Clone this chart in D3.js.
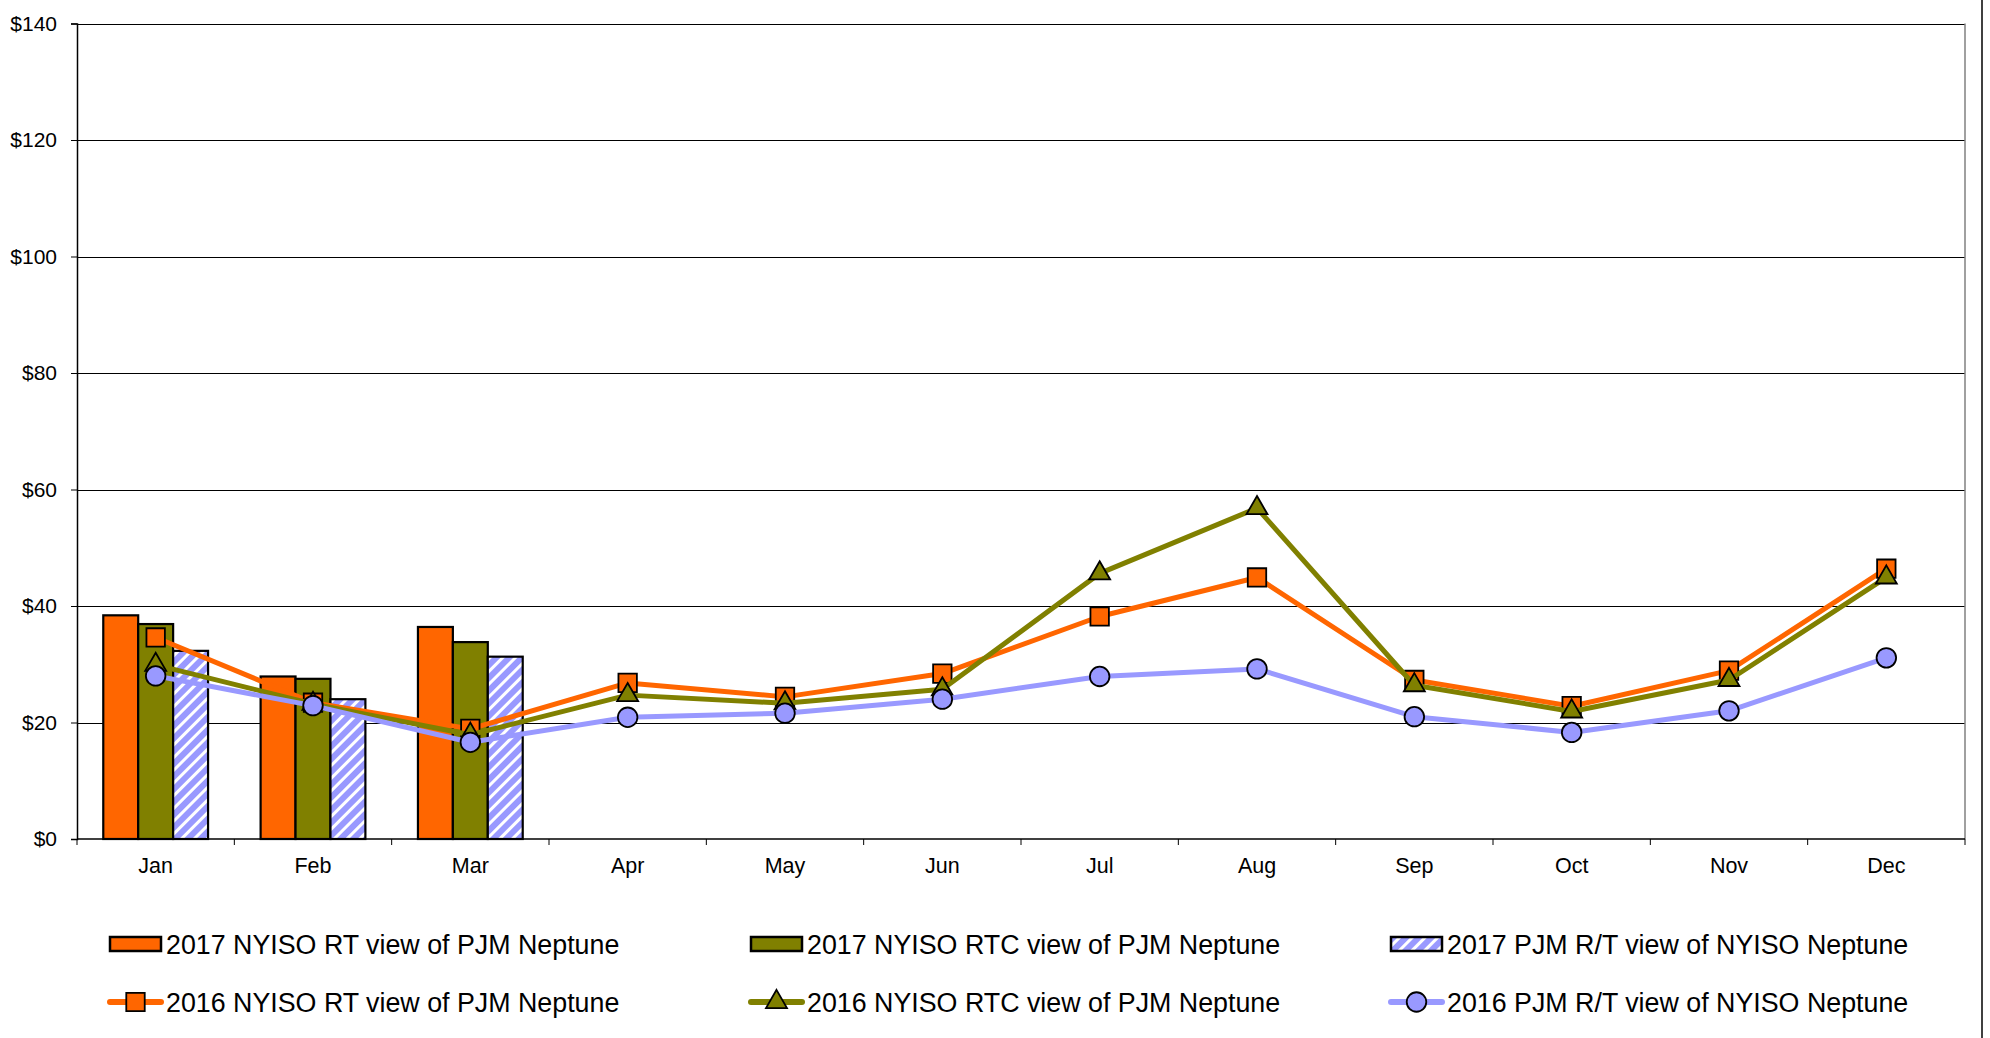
<!DOCTYPE html>
<html>
<head>
<meta charset="utf-8">
<script src="https://cdn.jsdelivr.net/npm/d3@7"></script>
<style>
  body { margin: 0; background: #fff; }
  svg { display: block; font-family: "Liberation Sans", Arial, sans-serif; }
</style>
</head>
<body>
<div id="chart"></div>
<script>
// Data
const months = ['Jan', 'Feb', 'Mar', 'Apr', 'May', 'Jun', 'Jul', 'Aug', 'Sep', 'Oct', 'Nov', 'Dec'];
const yTicks = [0, 20, 40, 60, 80, 100, 120, 140];

// 2017 bars (only Jan-Mar)
const rt2017 = [38.4, 27.9, 36.4];
const rtc2017 = [36.9, 27.5, 33.8];
const pjm2017 = [32.3, 24.0, 31.3];

// 2016 lines
const rt2016 = [34.6, 23.4, 18.9, 26.8, 24.4, 28.4, 38.2, 44.9, 27.3, 22.8, 28.9, 46.4];
const rtc2016 = [29.9, 23.2, 17.9, 24.7, 23.3, 25.7, 45.6, 56.8, 26.4, 21.9, 27.3, 44.9];
const pjm2016 = [28.0, 22.9, 16.6, 20.9, 21.6, 24.0, 27.9, 29.2, 21.0, 18.3, 22.0, 31.1];

const barSeries = [
  { name: '2017 NYISO RT view of PJM Neptune', values: rt2017, fill: '#FF6600' },
  { name: '2017 NYISO RTC view of PJM Neptune', values: rtc2017, fill: '#808000' },
  { name: '2017 PJM R/T view of NYISO Neptune', values: pjm2017, fill: 'url(#hatch)' }
];
const lineSeries = [
  { name: '2016 NYISO RT view of PJM Neptune', values: rt2016, color: '#FF6600', marker: d3.symbolSquare },
  { name: '2016 NYISO RTC view of PJM Neptune', values: rtc2016, color: '#808000', marker: d3.symbolTriangle },
  { name: '2016 PJM R/T view of NYISO Neptune', values: pjm2016, color: '#9999FF', marker: d3.symbolCircle }
];

const W = 1990, H = 1038;
const plot = { left: 77, right: 1965, top: 23.5, bottom: 839 };
const fontFamily = '"Liberation Sans", Arial, sans-serif';

const svg = d3.select('#chart').append('svg')
  .attr('width', W)
  .attr('height', H);

// hatch pattern for the PJM bars
const defs = svg.append('defs');
const pat = defs.append('pattern')
  .attr('id', 'hatch')
  .attr('patternUnits', 'userSpaceOnUse')
  .attr('width', 9)
  .attr('height', 9)
  .attr('patternTransform', 'rotate(45)');
pat.append('rect').attr('width', 9).attr('height', 9).attr('fill', '#9999FF');
pat.append('rect').attr('width', 3).attr('height', 9).attr('fill', '#fff');

// scales
const xScale = d3.scaleBand()
  .domain(months)
  .range([plot.left, plot.right])
  .padding(0);
const bw = xScale.bandwidth();

const subScale = d3.scaleBand()
  .domain(barSeries.map(d => d.name))
  .range([bw * 0.167, bw * 0.833])
  .padding(0);

const yScale = d3.scaleLinear()
  .domain([0, 140])
  .range([plot.bottom, plot.top]);

// gridlines
svg.append('g')
  .attr('transform', `translate(${plot.left},0)`)
  .call(d3.axisLeft(yScale).tickValues(yTicks.slice(1)).tickSize(-(plot.right - plot.left)).tickFormat(''))
  .call(g => g.select('.domain').remove())
  .call(g => g.selectAll('line').attr('stroke', '#000').attr('shape-rendering', 'crispEdges'));

// right border of plot area
svg.append('line')
  .attr('x1', plot.right).attr('x2', plot.right)
  .attr('y1', plot.top).attr('y2', plot.bottom)
  .attr('stroke', '#808080')
  .attr('stroke-width', 1.5);

// y axis
svg.append('g')
  .attr('transform', `translate(${plot.left},0)`)
  .call(d3.axisLeft(yScale).tickValues(yTicks).tickSize(6).tickPadding(14).tickFormat(d => '$' + d))
  .call(g => g.select('.domain').attr('stroke', '#000').attr('stroke-width', 1.5))
  .call(g => g.selectAll('line').attr('stroke', '#000'))
  .call(g => g.selectAll('text').attr('font-size', 21).attr('fill', '#000')
    .attr('font-family', fontFamily));

// bars
const barGroups = svg.append('g').selectAll('g')
  .data(barSeries)
  .join('g');

barGroups.selectAll('rect')
  .data(s => s.values.map((v, i) => ({ s, v, m: months[i] })))
  .join('rect')
  .attr('x', d => xScale(d.m) + subScale(d.s.name))
  .attr('width', subScale.bandwidth())
  .attr('y', d => yScale(d.v))
  .attr('height', d => yScale(0) - yScale(d.v))
  .attr('fill', d => d.s.fill)
  .attr('stroke', '#000')
  .attr('stroke-width', 2.2);

// x axis
const xAxisG = svg.append('g')
  .attr('transform', `translate(0,${plot.bottom})`)
  .call(d3.axisBottom(xScale).tickSize(0).tickPadding(19))
  .call(g => g.select('.domain').remove())
  .call(g => g.selectAll('text').attr('font-size', 21.5).attr('fill', '#000')
    .attr('font-family', fontFamily));

xAxisG.append('line')
  .attr('x1', plot.left).attr('x2', plot.right)
  .attr('stroke', '#000').attr('stroke-width', 1.5);

// small ticks between the months
xAxisG.selectAll('.bound')
  .data(months.map(m => xScale(m)).concat([plot.right]))
  .join('line')
  .attr('class', 'bound')
  .attr('x1', d => d).attr('x2', d => d)
  .attr('y1', 0).attr('y2', 6)
  .attr('stroke', '#000');

// lines with markers
const line = d3.line()
  .x((d, i) => xScale(months[i]) + bw / 2)
  .y(d => yScale(d));

function markerPath(type) {
  if (type === d3.symbolSquare) return d3.symbol(type, 340)();
  if (type === d3.symbolTriangle) return d3.symbol(type, 190)();
  return d3.symbol(type, 300)();
}

lineSeries.forEach(s => {
  const g = svg.append('g');
  g.append('path')
    .attr('d', line(s.values))
    .attr('fill', 'none')
    .attr('stroke', s.color)
    .attr('stroke-width', 5)
    .attr('stroke-linejoin', 'round');
  g.selectAll('path.marker')
    .data(s.values)
    .join('path')
    .attr('class', 'marker')
    .attr('transform', (d, i) => `translate(${xScale(months[i]) + bw / 2},${yScale(d)})`)
    .attr('d', markerPath(s.marker))
    .attr('fill', s.color)
    .attr('stroke', '#000')
    .attr('stroke-width', 1.8);
});

// legend
const legendCols = [110, 751, 1391];
const legendRows = [944, 1002];
const legend = svg.append('g');

barSeries.forEach((s, i) => {
  const g = legend.append('g').attr('transform', `translate(${legendCols[i]},${legendRows[0]})`);
  g.append('rect')
    .attr('x', 0).attr('y', -7)
    .attr('width', 51).attr('height', 14)
    .attr('fill', s.fill)
    .attr('stroke', '#000')
    .attr('stroke-width', 2.5);
  g.append('text')
    .attr('x', 56).attr('dy', '0.36em')
    .attr('font-size', 26.8)
    .text(s.name);
});

lineSeries.forEach((s, i) => {
  const g = legend.append('g').attr('transform', `translate(${legendCols[i]},${legendRows[1]})`);
  g.append('line')
    .attr('x1', 0).attr('x2', 51)
    .attr('stroke', s.color)
    .attr('stroke-width', 6)
    .attr('stroke-linecap', 'round');
  g.append('path')
    .attr('transform', 'translate(25.5,0)')
    .attr('d', markerPath(s.marker))
    .attr('fill', s.color)
    .attr('stroke', '#000')
    .attr('stroke-width', 1.8);
  g.append('text')
    .attr('x', 56).attr('dy', '0.36em')
    .attr('font-size', 26.8)
    .text(s.name);
});

// outer frame line on the right
svg.append('line')
  .attr('x1', 1982).attr('x2', 1982)
  .attr('y1', 0).attr('y2', H)
  .attr('stroke', '#000')
  .attr('stroke-width', 1.5);
</script>
</body>
</html>
